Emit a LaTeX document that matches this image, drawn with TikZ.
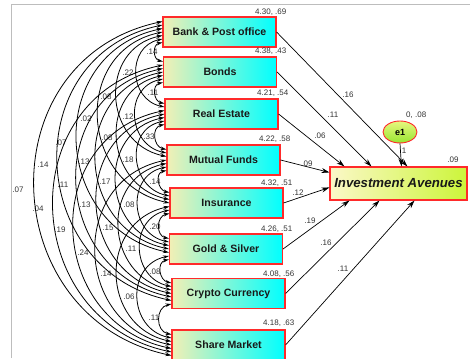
\documentclass[tikz,border=0pt]{standalone}
\usepackage{fontspec}
\setmainfont{Liberation Sans}
\usetikzlibrary{arrows.meta,shapes.geometric}
\definecolor{boxL}{HTML}{F2EFB5}
\definecolor{boxR}{HTML}{00FFFF}
\definecolor{iaL}{HTML}{FBF8C8}
\definecolor{iaR}{HTML}{CCF53A}
\definecolor{eT}{HTML}{E8F77E}
\definecolor{eB}{HTML}{98E632}
\definecolor{bred}{HTML}{FF2A2A}
\definecolor{frame}{HTML}{BDBDBD}
\begin{document}
\begin{tikzpicture}[x=1pt,y=1pt,
  var/.style={draw=bred, line width=1.1pt, left color=boxL, right color=boxR,
    minimum width=113pt, minimum height=30pt, inner sep=0pt,
    font=\fontsize{10.6}{12}\selectfont\bfseries, text=black!90},
  dep/.style={draw=bred, line width=1.1pt, left color=iaL, right color=iaR,
    minimum width=137pt, minimum height=33pt, inner sep=0pt,
    font=\fontsize{13.2}{15}\selectfont\bfseries\itshape, text=black!90},
  err/.style={ellipse, draw=bred, line width=0.9pt, top color=eT, bottom color=eB,
    minimum width=34pt, minimum height=22pt, inner sep=0pt,
    font=\fontsize{9}{10}\selectfont\bfseries},
  sl/.style={font=\fontsize{8}{9}\selectfont, text=black!80, inner sep=0pt},
  cov/.style={line width=0.8pt, {Stealth[length=6pt,width=3.6pt]}-{Stealth[length=6pt,width=3.6pt]}},
  reg/.style={line width=0.7pt, -{Stealth[length=8pt,width=5pt]}}]
\useasboundingbox (0,0) rectangle (470,358);
\draw[frame, line width=0.9pt] (11,0) -- (11,354) -- (470,354);

\node[var] (b0) at (219.5,326) {Bank \& Post office};
\node[var] (b1) at (220,286) {Bonds};
\node[var] (b2) at (221.5,244) {Real Estate};
\node[var] (b3) at (223.5,198) {Mutual Funds};
\node[var] (b4) at (226.5,155) {Insurance};
\node[var] (b5) at (226,109) {Gold \& Silver};
\node[var] (b6) at (228.5,64.5) {Crypto Currency};
\node[var] (b7) at (228.5,13) {Share Market};

\node[dep] (ia) at (398.5,174.5) {Investment Avenues};
\node[err] (e1) at (400,226) {e1};

% covariances
\foreach \i/\j/\v/\lx/\ly in {
  0/1/.14/152/52, 1/2/.11/153/93, 2/3/.33/149/137, 3/4/.14/155/182,
  4/5/.20/155/227, 5/6/.08/155/272, 6/7/.11/154/318,
  0/2/.22/128/73, 1/3/.12/128/117, 2/4/.18/128/160, 3/5/.08/129/205,
  4/6/.11/131/249, 5/7/.06/129/297,
  0/3/.08/106/97, 1/4/.08/107/138, 2/5/.17/105/182, 3/6/.15/108/228, 4/7/.14/106/274,
  0/4/.02/86/119, 1/5/.13/84/162, 2/6/.13/85/205, 3/7/.24/83/253,
  0/5/.07/61/143, 1/6/.11/63/185, 2/7/.19/60/230,
  0/6/.14/43/165, 1/7/.04/38/209,
  0/7/.07/18/190} {
  \pgfmathsetmacro\si{10.5-3.5*(\i+7-\j)}
  \pgfmathsetmacro\sj{10.5-3.5*(\j-1-\i)}
  \draw[cov] ([yshift=\si pt]b\i.west) to[out=192,in=168,looseness=1.38] ([yshift=\sj pt]b\j.west);
  \node[sl] (c\i\j) at (\lx,358-\ly) {\v};
}

% regressions
\draw[reg] (b0.east) -- ([xshift=78pt]ia.north west);
\draw[reg] (b1.east) -- ([xshift=42pt]ia.north west);
\draw[reg] (b2.east) -- ([xshift=15pt]ia.north west);
\draw[reg] (b3.east) -- ([yshift=-6pt]ia.north west);
\draw[reg] (b4.east) -- ([yshift=-21pt]ia.north west);
\draw[reg] (b5.east) -- ([xshift=20pt]ia.south west);
\draw[reg] (b6.east) -- ([xshift=50pt]ia.south west);
\draw[reg] (b7.east) -- ([xshift=85pt]ia.south west);
\draw[reg] (e1.south) -- ([xshift=72pt]ia.north west);

\node[sl] (r0) at (348,263) {.16};
\node[sl] (r1) at (333,243) {.11};
\node[sl] (r2) at (320,222) {.06};
\node[sl] (r3) at (307,194) {.09};
\node[sl] (r4) at (298,165) {.12};
\node[sl] (r5) at (310,137) {.19};
\node[sl] (r6) at (326,115) {.16};
\node[sl] (r7) at (343,89) {.11};

\node[sl, anchor=west] (m0) at (255,346) {4.30, .69};
\node[sl, anchor=west] (m1) at (255,307) {4.38, .43};
\node[sl, anchor=west] (m2) at (257,265) {4.21, .54};
\node[sl, anchor=west] (m3) at (259,219) {4.22, .58};
\node[sl, anchor=west] (m4) at (261,175) {4.32, .51};
\node[sl, anchor=west] (m5) at (261,129) {4.26, .51};
\node[sl, anchor=west] (m6) at (263,84) {4.08, .56};
\node[sl, anchor=west] (m7) at (263,35) {4.18, .63};

\node[sl, anchor=west] (ev) at (406,243) {0, .08};
\node[sl] (r2v) at (453,198) {.09};
\node[sl] (one) at (404,207) {1};
\end{tikzpicture}
\end{document}
